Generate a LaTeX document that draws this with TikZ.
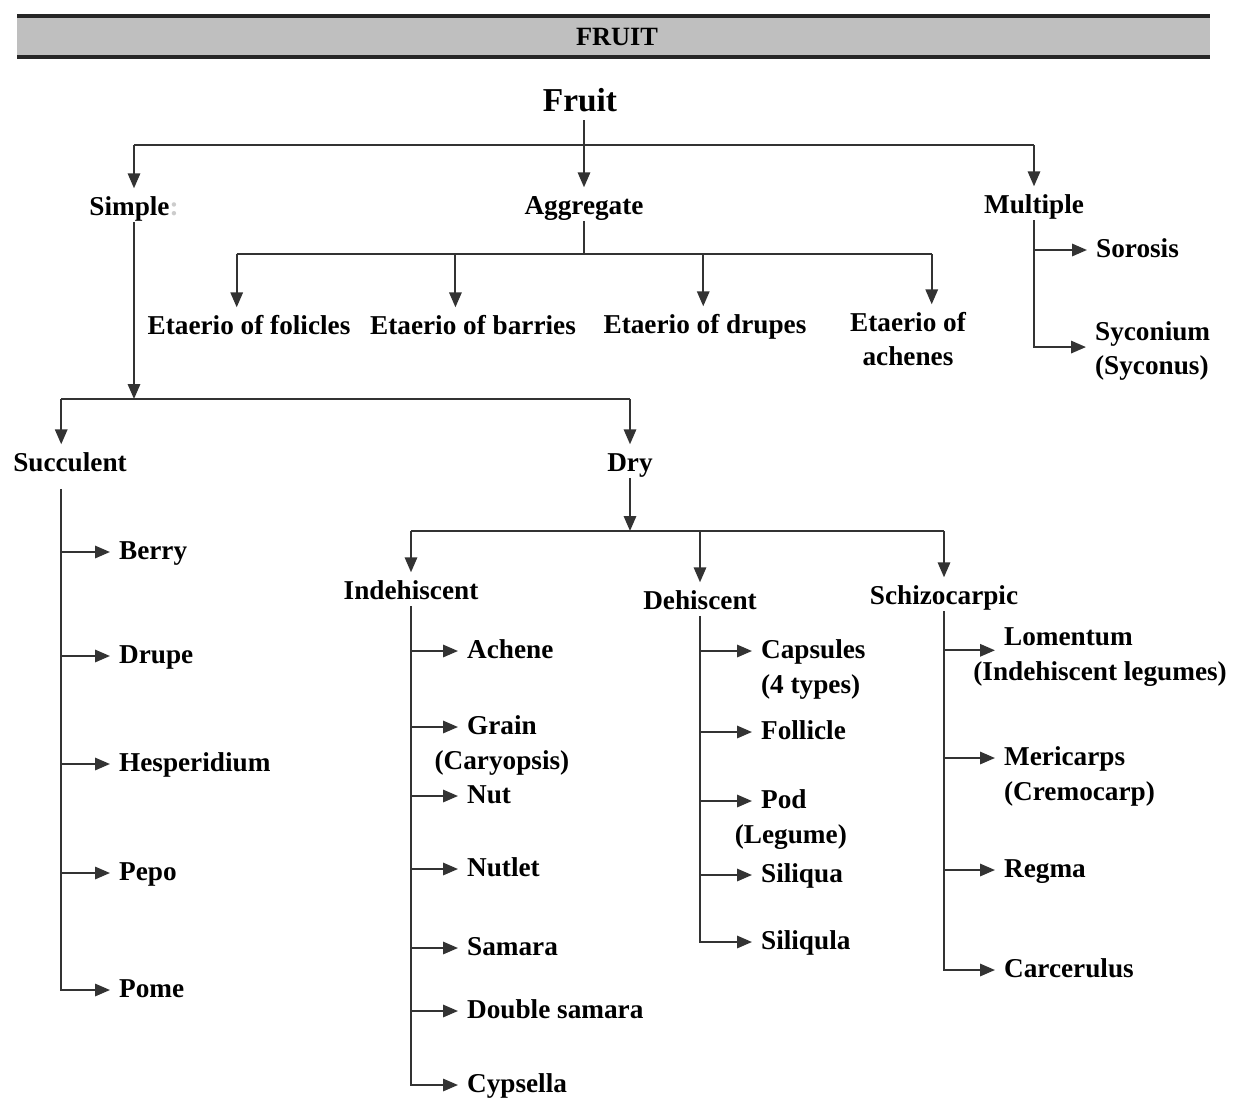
\documentclass[tikz,border=0pt]{standalone}
\usepackage{fontspec}
\setmainfont{Liberation Serif}
\usetikzlibrary{arrows.meta,calc,positioning}

\tikzset{
  lbl/.style={font=\fontsize{15.5pt}{19.5pt}\selectfont\bfseries, inner xsep=5pt, inner ysep=1pt, text height=11pt, text depth=3pt},
  head/.style={lbl, font=\fontsize{19pt}{23pt}\selectfont\bfseries, text height=13.5pt, text depth=4pt},
  ln/.style={line width=1.2pt, draw=black!80},
  arr/.style={ln, -{Triangle[length=8.5pt,width=7pt]}},
  down/.style={arr, shorten >=3pt},
}

\begin{document}
\begin{tikzpicture}[x=0.02cm, y=-0.02cm]
\useasboundingbox (0,0) rectangle (1234,1099);

% title bar
\fill[black!25] (17,16) rectangle (1210,57);
\draw[line width=1.8pt, black!85] (17,16) -- (1210,16) (17,57) -- (1210,57);
\node[lbl, font=\fontsize{15pt}{18pt}\selectfont\bfseries] (title) at (617,38) {FRUIT};

% first level
\node[head] (fruit) at (580,103) {Fruit};
\node[lbl] (simple) at (134,208) {Simple\textcolor{black!20}{:}};
\node[lbl] (agg) at (584,207) {Aggregate};
\node[lbl] (mult) at (1034,206) {Multiple};
\coordinate (bus1) at (584,145);
\draw[ln] (simple.north |- bus1) -- (mult.north |- bus1);
\draw[down] (simple.north |- bus1) -- (simple.north);
\draw[down] (mult.north |- bus1) -- (mult.north);
\draw[down] (fruit.south -| agg.north) -- (agg.north);

% aggregate
\node[lbl] (ef) at (249,327) {Etaerio of folicles};
\node[lbl] (eb) at (473,327) {Etaerio of barries};
\node[lbl] (ed) at (705,326) {Etaerio of drupes};
\node[lbl, label={[lbl,yshift=-3.5pt]below:achenes}] (ea) at (908,324) {Etaerio of};
\coordinate (efA) at ([xshift=-7pt]ef.north);
\coordinate (ebA) at ([xshift=-10pt]eb.north);
\coordinate (edA) at ([xshift=-1pt]ed.north);
\coordinate (eaA) at ([xshift=13.5pt]ea.north);
\coordinate (bus2) at (584,254);
\draw[ln] (agg.south) -- (bus2);
\draw[ln] (efA |- bus2) -- (eaA |- bus2);
\foreach \n in {efA,ebA,edA,eaA}
  \draw[down] (\n |- bus2) -- (\n);

% multiple
\node[lbl, anchor=west] (sor) at (1087,250) {Sorosis};
\node[lbl, anchor=west, label={[lbl,anchor=north west,yshift=-3.5pt]south west:(Syconus)}] (syc) at (1086,333) {Syconium};
\coordinate (sycA) at ($(syc.west)+(0pt,-8pt)$);
\draw[arr] (mult.south |- sor.west) -- (sor.west);
\draw[arr] (mult.south) |- (sycA);

% simple
\coordinate (bus3) at (132,399);
\draw[arr] (simple.south) -- (simple.south |- bus3);
\node[lbl] (succ) at (70,464) {Succulent};
\node[lbl] (dry) at (630,464) {Dry};
\coordinate (sucT) at ([xshift=-5pt]succ.south);
\draw[ln] (sucT |- bus3) -- (dry.north |- bus3);
\draw[down] (sucT |- bus3) -- (sucT |- succ.north);
\draw[down] (dry.north |- bus3) -- (dry.north);

% succulent
\node[lbl, anchor=west] (berry) at (110,552) {Berry};
\node[lbl, anchor=west] (drupe) at (110,656) {Drupe};
\node[lbl, anchor=west] (hesp) at (110,764) {Hesperidium};
\node[lbl, anchor=west] (pepo) at (110,873) {Pepo};
\node[lbl, anchor=west] (pome) at (110,990) {Pome};
\foreach \n in {berry,drupe,hesp,pepo}
  \draw[arr] (sucT |- \n.west) -- (\n.west);
\draw[arr] ([yshift=-6pt]sucT) |- (pome.west);

% dry
\coordinate (bus4) at (630,531);
\draw[arr] (dry.south) -- (bus4);
\node[lbl] (indeh) at (411,592) {Indehiscent};
\node[lbl] (dehis) at (700,602) {Dehiscent};
\node[lbl] (schiz) at (944,597) {Schizocarpic};
\draw[ln] (indeh.north |- bus4) -- (schiz.north |- bus4);
\foreach \n in {indeh,dehis,schiz}
  \draw[down] (\n.north |- bus4) -- (\n.north);

% indehiscent
\node[lbl, anchor=west] (achene) at (458,651) {Achene};
\node[lbl, anchor=west, label={[lbl,yshift=-3.5pt]below:(Caryopsis)}] (grain) at (458,727) {Grain};
\node[lbl, anchor=west] (nut) at (458,796) {Nut};
\node[lbl, anchor=west] (nutlet) at (458,869) {Nutlet};
\node[lbl, anchor=west] (samara) at (458,948) {Samara};
\node[lbl, anchor=west] (dsamara) at (458,1011) {Double samara};
\node[lbl, anchor=west] (cyps) at (458,1085) {Cypsella};
\foreach \n in {achene,grain,nut,nutlet,samara,dsamara}
  \draw[arr] (indeh.south |- \n.west) -- (\n.west);
\draw[arr] (indeh.south) |- (cyps.west);

% dehiscent
\node[lbl, anchor=west, label={[lbl,anchor=north west,yshift=-3.5pt]south west:(4 types)}] (caps) at (752,651) {Capsules};
\node[lbl, anchor=west] (foll) at (752,732) {Follicle};
\node[lbl, anchor=west, label={[lbl,xshift=4pt,yshift=-3.5pt]below:(Legume)}] (pod) at (752,801) {Pod};
\node[lbl, anchor=west] (siliq) at (752,875) {Siliqua};
\node[lbl, anchor=west] (siliql) at (752,942) {Siliqula};
\foreach \n in {caps,foll,pod,siliq}
  \draw[arr] (dehis.south |- \n.west) -- (\n.west);
\draw[arr] (dehis.south) |- (siliql.west);

% schizocarpic
\node[lbl, anchor=west, label={[lbl,xshift=18pt,yshift=-3.5pt]below:(Indehiscent legumes)}] (lom) at (995,638) {Lomentum};
\node[lbl, anchor=west, label={[lbl,anchor=north west,yshift=-3.5pt]south west:(Cremocarp)}] (mer) at (995,758) {Mericarps};
\node[lbl, anchor=west] (regma) at (995,870) {Regma};
\node[lbl, anchor=west] (carc) at (995,970) {Carcerulus};
\coordinate (lomA) at ($(lom.west)+(0pt,-7pt)$);
\draw[arr] (schiz.south |- lomA) -- (lomA);
\foreach \n in {mer,regma}
  \draw[arr] (schiz.south |- \n.west) -- (\n.west);
\draw[arr] (schiz.south) |- (carc.west);
\end{tikzpicture}
\end{document}
